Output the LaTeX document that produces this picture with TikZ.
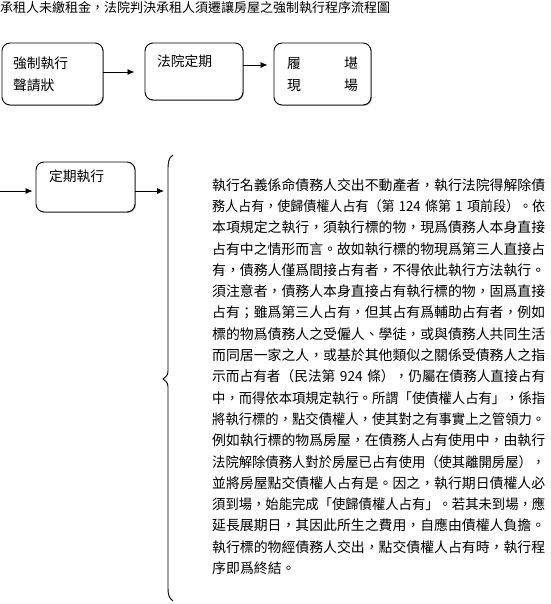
\documentclass[tikz,border=0pt]{standalone}
\usepackage{fontspec}
\usepackage{graphicx}
\setmainfont{Noto Sans CJK TC}
\usetikzlibrary{arrows.meta,shadows}
\newcommand\bodyline[1]{\resizebox{333pt}{\height}{#1}}
\begin{document}
\begin{tikzpicture}[x=1pt,y=-1pt,
  box/.style={draw, line width=0.9pt, rounded corners=8pt, fill=white, inner sep=0pt,
    align=left, font=\fontsize{13.8pt}{22pt}\selectfont,
    drop shadow={shadow xshift=0.8pt,shadow yshift=-0.8pt,fill=gray!80,opacity=1}},
  arr/.style={-{Latex[length=7pt,width=6pt]}, line width=0.8pt},
  line/.style={line width=0.9pt}]
\useasboundingbox (0,0) rectangle (550,604);
\node[anchor=west, inner sep=0pt, font=\fontsize{13pt}{13pt}\selectfont] (title) at (0,8)
  {承租人未繳租金，法院判決承租人須遷讓房屋之強制執行程序流程圖};
% first row
\node[box, minimum width=101pt, minimum height=62pt, text width=79pt] (b1) at (52.5,74)
  {強制執行\\聲請狀};
\node[box, minimum width=98pt, minimum height=57pt, text width=74pt] (b2) at (194,71.5)
  {法院定期\\\mbox{}};
\node[box, minimum width=97pt, minimum height=62pt, text width=71pt] (b3) at (322.5,74)
  {履\hfill 堪\\現\hfill 場};
\coordinate (a1y) at (0,72);
\coordinate (a2y) at (0,65);
\draw[arr, shorten >=10pt] (b1.east |- a1y) -- (b2.west |- a1y);
\draw[arr, shorten >=6pt] (b2.east |- a2y) -- (b3.west |- a2y);
% second row
\coordinate (start) at (0,191);
\coordinate (bracetip) at (164,191);
\node[box, minimum width=99pt, minimum height=50pt, text width=73pt] (b4) at (85.5,187)
  {定期執行\\\mbox{}};
\draw[arr, shorten >=3pt] (start) -- (start -| b4.west);
\draw[arr] (b4.east |- start) -- (bracetip);
% brace
\draw[line] (173,155) .. controls (168,158) and (168,163) .. (168,172)
  -- (168,368) .. controls (168,375) .. (163,379) .. controls (168,383) .. (168,390)
  -- (168,588) .. controls (168,595) and (169,598) .. (173,601);
% body text
\node[anchor=north west, inner sep=0pt, text width=340pt, align=left,
  font=\fontsize{13.9pt}{21.3pt}\selectfont] (body) at (212,178) {%
\bodyline{執行名義係命債務人交出不動產者，執行法院得解除債}\\
\bodyline{務人占有，使歸債權人占有（第 124 條第 1 項前段）。依}\\
\bodyline{本項規定之執行，須執行標的物，現爲債務人本身直接}\\
\bodyline{占有中之情形而言。故如執行標的物現爲第三人直接占}\\
\bodyline{有，債務人僅爲間接占有者，不得依此執行方法執行。}\\
\bodyline{須注意者，債務人本身直接占有執行標的物，固爲直接}\\
\bodyline{占有；雖爲第三人占有，但其占有爲輔助占有者，例如}\\
\bodyline{標的物爲債務人之受僱人、學徒，或與債務人共同生活}\\
\bodyline{而同居一家之人，或基於其他類似之關係受債務人之指}\\
\bodyline{示而占有者（民法第 924 條），仍屬在債務人直接占有}\\
\bodyline{中，而得依本項規定執行。所謂「使債權人占有」，係指}\\
\bodyline{將執行標的，點交債權人，使其對之有事實上之管領力。}\\
\bodyline{例如執行標的物爲房屋，在債務人占有使用中，由執行}\\
\bodyline{法院解除債務人對於房屋已占有使用（使其離開房屋），}\\
\bodyline{並將房屋點交債權人占有是。因之，執行期日債權人必}\\
\bodyline{須到場，始能完成「使歸債權人占有」。若其未到場，應}\\
\bodyline{延長展期日，其因此所生之費用，自應由債權人負擔。}\\
\bodyline{執行標的物經債務人交出，點交債權人占有時，執行程}\\
\mbox{序即爲終結。}};
\end{tikzpicture}
\end{document}
